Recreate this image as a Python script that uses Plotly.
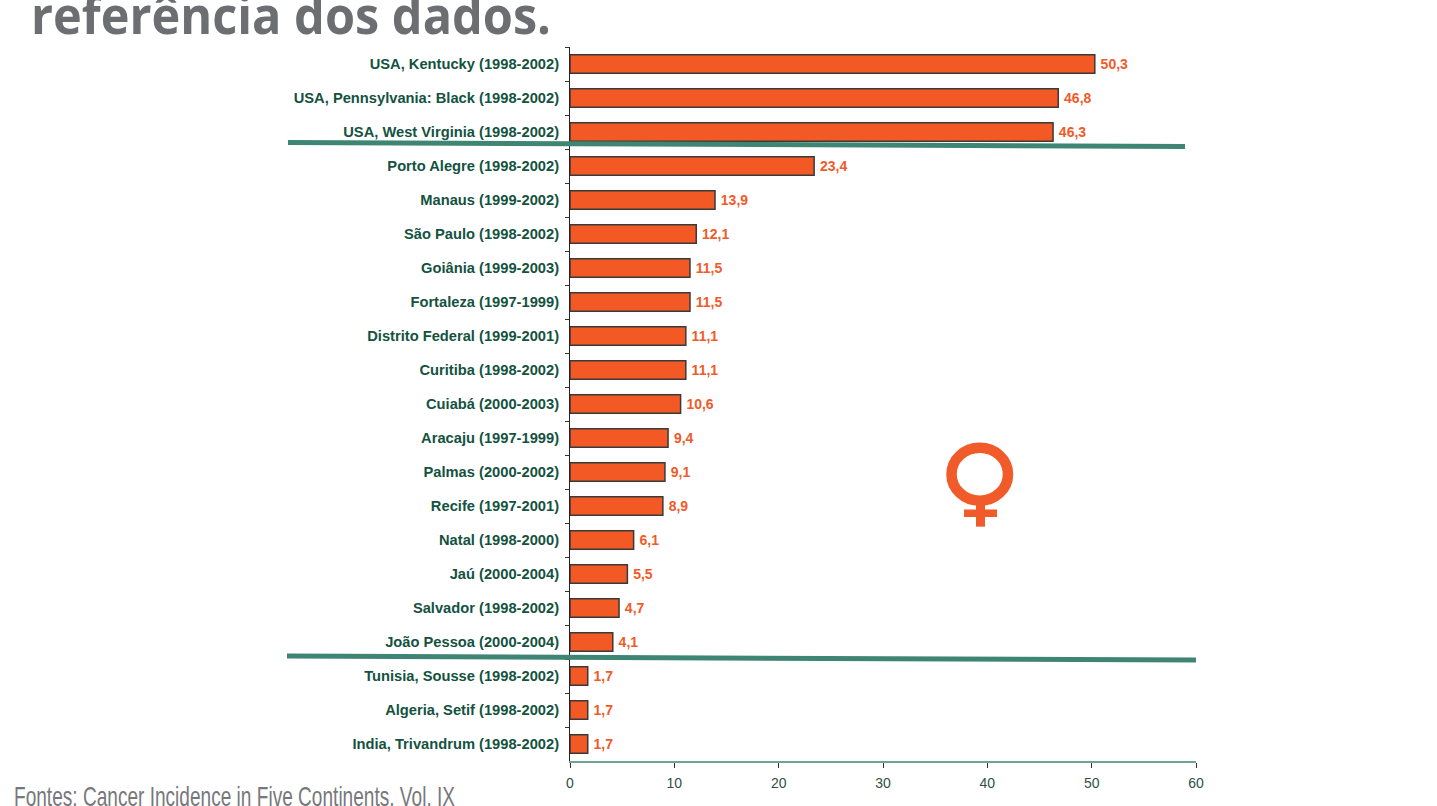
import plotly.graph_objects as go

categories = ["USA, Kentucky (1998-2002)", "USA, Pennsylvania: Black (1998-2002)", "USA, West Virginia (1998-2002)",
              "Porto Alegre (1998-2002)", "Manaus (1999-2002)", "São Paulo (1998-2002)", "Goiânia (1999-2003)",
              "Fortaleza (1997-1999)", "Distrito Federal (1999-2001)", "Curitiba (1998-2002)", "Cuiabá (2000-2003)",
              "Aracaju (1997-1999)", "Palmas (2000-2002)", "Recife (1997-2001)", "Natal (1998-2000)",
              "Jaú (2000-2004)", "Salvador (1998-2002)", "João Pessoa (2000-2004)", "Tunisia, Sousse (1998-2002)",
              "Algeria, Setif (1998-2002)", "India, Trivandrum (1998-2002)"]
values = [50.3, 46.8, 46.3, 23.4, 13.9, 12.1, 11.5, 11.5, 11.1, 11.1, 10.6, 9.4, 9.1, 8.9, 6.1, 5.5, 4.7, 4.1, 1.7, 1.7, 1.7]
value_labels = ["\u2009" + f"{v:.1f}".replace(".", ",") for v in values]
x_ticks = [0, 10, 20, 30, 40, 50, 60]

W, H = 1437, 806
L, R, T, B = 570, 1196, 46.5, 761
ORANGE = "#f15a29"
GREEN = "#3f8573"
def px(x): return (x - L) / (R - L)
def py(y): return (B - y) / (B - T)

fig = go.Figure(go.Bar(
    y=categories, x=values, orientation="h",
    text=value_labels, textposition="outside", cliponaxis=False,
    textfont=dict(family="Liberation Sans", size=14, color=ORANGE, weight="bold"),
    marker=dict(color="#f25925", line=dict(color="#3a3a3a", width=1.5)),
    width=0.55,
))

def line(x0, y0, x1, y1, color, w):
    return dict(type="line", xref="paper", yref="paper", x0=px(x0), y0=py(y0), x1=px(x1), y1=py(y1),
                line=dict(color=color, width=w), layer="above")

shapes = [
    line(288, 142, 1185, 146, GREEN, 5),
    line(287, 656, 1196, 660, GREEN, 5),
    dict(type="circle", xref="paper", yref="paper", x0=px(951.5), x1=px(1008), y0=py(447.5), y1=py(500.5),
         line=dict(color=ORANGE, width=10.5), fillcolor="rgba(0,0,0,0)"),
    line(980.5, 502, 980.5, 526.5, ORANGE, 9),
    line(964, 513, 997, 513, ORANGE, 7.5),
]

annotations = [
    dict(text="<b>referência dos dados.</b>", xref="paper", yref="paper", x=px(31), y=py(36),
         xanchor="left", yanchor="bottom", showarrow=False, yshift=-14,
         font=dict(family="Open Sans", size=52, color="#6d6e71")),
    dict(text="Fontes: Cancer Incidence in Five Continents, Vol. IX", xref="paper", yref="paper", x=px(14), y=py(806),
         xanchor="left", yanchor="bottom", showarrow=False, yshift=-8,
         font=dict(family="Liberation Sans", size=28, color="#77787b")),
]

fig.update_layout(
    width=W, height=H, margin=dict(l=L, r=W - R, t=T, b=H - B, autoexpand=False),
    paper_bgcolor="white", plot_bgcolor="white", showlegend=False,
    shapes=shapes, annotations=annotations,
    xaxis=dict(range=[0, 60], tickvals=x_ticks, ticks="outside", ticklen=5, tickcolor="#333333",
               showgrid=False, zeroline=False, showline=True, linecolor="#6fa595", linewidth=1.5,
               ticklabelstandoff=3,
               tickfont=dict(family="Liberation Sans", size=14, color="#2f4f47")),
    yaxis=dict(autorange="reversed", type="category", categoryorder="array", categoryarray=categories,
               tickson="boundaries", ticks="outside", ticklen=4, tickcolor="#333333",
               showline=True, linecolor="#222222", linewidth=1, showgrid=False, zeroline=False,
               ticklabelstandoff=7,
               tickfont=dict(family="Liberation Sans", size=14.7, color="#14523f", weight="bold")),
)

# The page's default body margin would shift the figure; condensed fonts are not installed,
# so the two slide texts are fitted to their reference widths while remaining real text.
post = """
document.body.style.margin = '0';
document.body.style.overflow = 'hidden';
var fits = {'referência dos dados.': [31, 520], 'Fontes: Cancer Incidence in Five Continents, Vol. IX': [14, 441]};
document.querySelectorAll('.annotation-text').forEach(function (t) {
    var f = fits[t.textContent];
    if (f) {
        t.setAttribute('text-anchor', 'start');
        t.style.textAnchor = 'start';
        t.setAttribute('textLength', f[1]);
        t.setAttribute('lengthAdjust', 'spacingAndGlyphs');
        var x0 = parseFloat(t.getAttribute('x')) || 0;
        var dx = f[0] - t.getBoundingClientRect().left;
        t.setAttribute('x', x0 + dx);
        t.querySelectorAll('tspan').forEach(function (s) { s.removeAttribute('x'); });
    }
});
"""
fig.write_html("out.html", config=dict(displayModeBar=False), post_script=post)
